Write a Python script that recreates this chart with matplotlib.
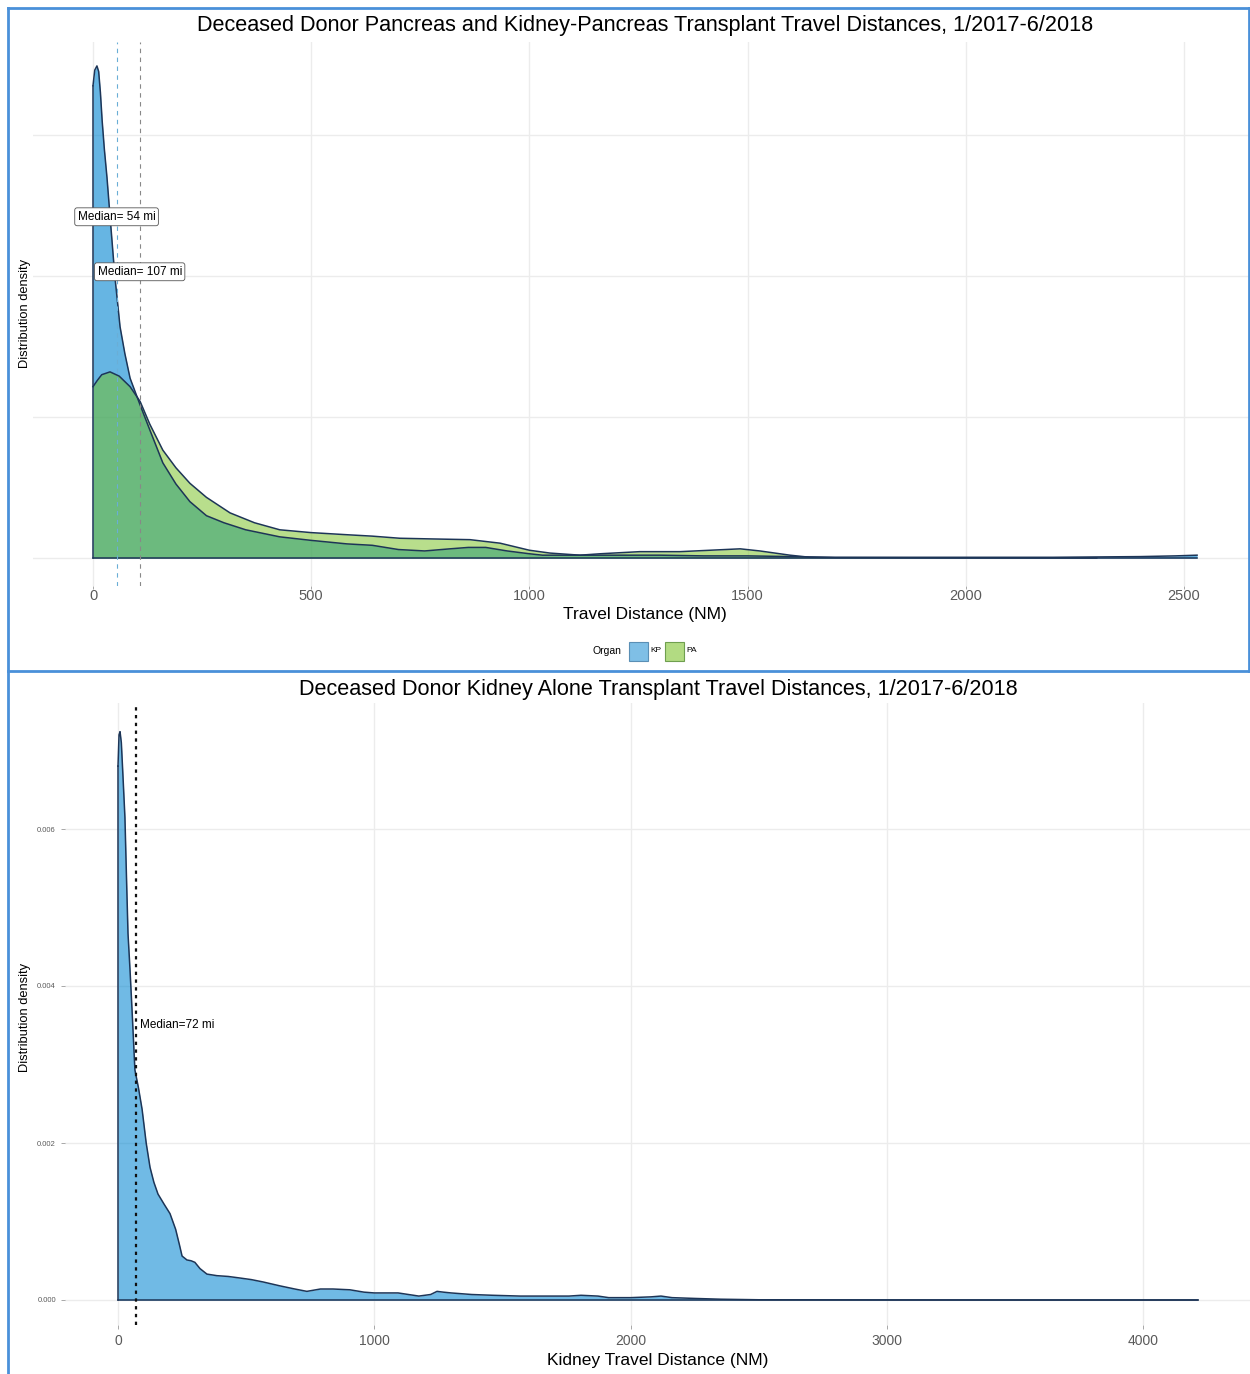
import numpy as np
import matplotlib
matplotlib.use("Agg")
import matplotlib.pyplot as plt
from matplotlib.patches import Rectangle
from matplotlib.lines import Line2D

plt.rcParams["font.family"] = ["Liberation Sans", "DejaVu Sans"]

# ---- top panel: pancreas / kidney-pancreas densities
kp_x = [0, 4, 9, 13, 17, 21, 26, 32, 39, 50, 62, 73, 85, 108, 130, 160, 190, 222,
        260, 300, 350, 428, 500, 582, 640, 700, 760, 818, 860, 900, 949, 1000,
        1030, 1100, 1200, 1300, 1400, 1500, 1600, 1700, 1800, 2000, 2200, 2400, 2480, 2530]
kp_y = [.0067, .00692, .00698, .0069, .0066, .0062, .0058, .0054, .00485, .0040, .00328,
        .0029, .00255, .00217, .00182, .00135, .00105, .0008, .0006, .0005, .0004, .0003,
        .00025, .0002, .00018, .00012, .0001, .00013, .00015, .00015, .0001,
        .00006, .00004, .00004, .00004, .00004, .00003, .00003, .00002, .00001, .00001,
        .00001, .00001, .00002, .00003, .00004]

pa_x = [0, 10, 20, 39, 60, 85, 108, 130, 160, 190, 222, 260, 314, 370, 428, 500, 582,
        640, 703, 780, 864, 933, 1000, 1047, 1116, 1162, 1253, 1345, 1414, 1483, 1528,
        1597, 1643, 1700, 2000, 2300]
pa_y = [.00243, .00252, .0026, .00264, .00258, .00243, .00222, .0019, .00153, .00128,
        .00106, .00086, .00064, .0005, .0004, .00036, .00033, .00031, .00028, .00027,
        .00026, .00021, .00011, .00007, .00004, .00006, .00009, .00009, .00011, .00013,
        .0001, .00004, .00001, .000005, .000002, 0]

kp_median = 54
pa_median = 107

# ---- bottom panel: kidney alone density
kd_x = [0, 4, 8, 13, 19, 27, 33, 39, 47, 55, 66, 80, 94, 110, 125, 140, 156, 180, 203,
        225, 240, 250, 269, 285, 300, 320, 347, 386, 430, 476, 520, 566, 632, 690, 737,
        790, 839, 905, 960, 1000, 1093, 1174, 1220, 1245, 1270, 1300, 1380, 1463, 1570,
        1670, 1760, 1807, 1873, 1915, 2000, 2080, 2119, 2162, 2250, 2353, 2500, 3000,
        3500, 4000, 4214]
kd_y = [.0068, .0072, .00724, .0071, .0067, .00615, .0054, .00467, .0042, .00368, .00293,
        .0027, .00243, .002, .00169, .0015, .00135, .00122, .0011, .0009, .0007, .00056,
        .00051, .0005, .00048, .0004, .00033, .00031, .0003, .00028, .00026, .00023,
        .00018, .00014, .00011, .00014, .00014, .00013, .0001, .00009, .00009, .00005,
        .00007, .00011, .0001, .00009, .00007, .00006, .00005, .00005, .00005, .00006,
        .00005, .00003, .00003, .00004, .00005, .00003, .00002, .00001, .000003, .000001,
        0, 0, 0]
kd_median = 72

top_xticks = [0, 500, 1000, 1500, 2000, 2500]
bot_xticks = [0, 1000, 2000, 3000, 4000]
y_ticks = [0, 0.002, 0.004, 0.006]

W, H = 1250, 1374
fig = plt.figure(figsize=(W / 100, H / 100), dpi=100)


def fx(px):
    return px / W


def fy(py):
    return 1 - py / H


outline = "#1d3557"
kp_col = "#0085d1"
pa_col = "#73bf1a"
grid_col = "#ececec"


def style(ax):
    for s in ax.spines.values():
        s.set_visible(False)
    ax.grid(True, color=grid_col, lw=1.0)
    ax.set_axisbelow(True)
    ax.tick_params(colors="#9a9a9a", length=3, width=0.6, labelcolor="#5a5a5a")


# ---- top panel
ax1 = fig.add_axes([fx(33), fy(586), fx(1250 - 33), (586 - 42) / H])
style(ax1)
ax1.fill_between(kp_x, kp_y, 0, color=kp_col, alpha=0.6, lw=0)
ax1.plot(kp_x, kp_y, color=outline, lw=1.1)
ax1.fill_between(pa_x, pa_y, 0, color=pa_col, alpha=0.5, lw=0)
ax1.plot(pa_x, pa_y, color=outline, lw=1.1)
ax1.plot([0, 2530], [0, 0], color=outline, lw=1.1)
ax1.plot([0, 0], [0, kp_y[0]], color=outline, lw=1.1)
ax1.axvline(kp_median, color="#6aaed6", ls=(0, (4, 4)), lw=0.8)
ax1.axvline(pa_median, color="#888888", ls=(0, (4, 4)), lw=0.8)
box = dict(boxstyle="round,pad=0.25,rounding_size=0.2", fc="white", ec="#555555", lw=0.6)
ax1.text(kp_median, 0.00484, "Median= 54 mi", ha="center", va="center", fontsize=8.5, bbox=box)
ax1.text(pa_median, 0.00406, "Median= 107 mi", ha="center", va="center", fontsize=8.5, bbox=box)
ax1.set_xlim((33 - 93) / 0.4364, (1250 - 93) / 0.4364)
ax1.set_ylim((558 - 586) / 70500, (558 - 42) / 70500)
ax1.set_xticks(top_xticks)
ax1.set_xticklabels([str(t) for t in top_xticks], fontsize=10.5)
ax1.tick_params(axis="x", length=2, pad=0.5)
ax1.set_yticks(y_ticks)
ax1.set_yticklabels([])
ax1.tick_params(axis="y", length=0)

fig.text(fx(645), fy(26), "Deceased Donor Pancreas and Kidney-Pancreas Transplant Travel Distances, 1/2017-6/2018",
         ha="center", va="center", fontsize=15.6)
fig.text(fx(645), fy(614), "Travel Distance (NM)", ha="center", va="center", fontsize=12.5)
fig.text(fx(25), fy(313), "Distribution density", ha="center", va="center", rotation=90, fontsize=9.3)

# legend
fig.text(fx(607), fy(651), "Organ", ha="center", va="center", fontsize=7.5)
fig.add_artist(Rectangle((fx(629), fy(661)), fx(19), 19 / H, transform=fig.transFigure,
                         fc="#7fbfe6", ec="#5a8fb5", lw=0.8))
fig.text(fx(656), fy(651), "KP", ha="center", va="center", fontsize=6)
fig.add_artist(Rectangle((fx(665), fy(661)), fx(19), 19 / H, transform=fig.transFigure,
                         fc="#b2db82", ec="#6f9f4f", lw=0.8))
fig.text(fx(692), fy(651), "PA", ha="center", va="center", fontsize=6)

# ---- bottom panel
ax2 = fig.add_axes([fx(65), fy(1325), fx(1250 - 65), (1325 - 703) / H])
style(ax2)
ax2.fill_between(kd_x, kd_y, 0, color="#0085d1", alpha=0.56, lw=0)
ax2.plot(kd_x, kd_y, color=outline, lw=1.1)
ax2.plot([0, 4214], [0, 0], color=outline, lw=1.1)
ax2.plot([0, 0], [0, kd_y[0]], color=outline, lw=1.1)
ax2.axvline(kd_median, color="#111111", ls=(0, (1.5, 2)), lw=1.6)
ax2.text(kd_median + 14, 0.0035, "Median=72 mi", ha="left", va="center", fontsize=8.5)
ax2.set_xlim((65 - 118) / 0.25625, (1250 - 118) / 0.25625)
ax2.set_ylim((1300 - 1325) / 78500, (1300 - 703) / 78500)
ax2.set_xticks(bot_xticks)
ax2.set_xticklabels([str(t) for t in bot_xticks], fontsize=10)
ax2.set_yticks(y_ticks)
ax2.set_yticklabels(["%.3f" % t for t in y_ticks], fontsize=5.5)

fig.text(fx(658), fy(690), "Deceased Donor Kidney Alone Transplant Travel Distances, 1/2017-6/2018",
         ha="center", va="center", fontsize=15.6)
fig.text(fx(658), fy(1361), "Kidney Travel Distance (NM)", ha="center", va="center", fontsize=12.5)
fig.text(fx(25), fy(1017), "Distribution density", ha="center", va="center", rotation=90, fontsize=9.3)

# blue frame around the panels
frame = "#4a90d9"
fig.add_artist(Line2D([fx(8), fx(8)], [fy(8), fy(1374)], transform=fig.transFigure, color=frame, lw=2))
fig.add_artist(Line2D([fx(8), fx(1249)], [fy(8), fy(8)], transform=fig.transFigure, color=frame, lw=2))
fig.add_artist(Line2D([fx(8), fx(1249)], [fy(671), fy(671)], transform=fig.transFigure, color=frame, lw=2))
fig.add_artist(Line2D([fx(1249), fx(1249)], [fy(8), fy(671)], transform=fig.transFigure, color=frame, lw=2))

fig.savefig("out.png", dpi=100)
